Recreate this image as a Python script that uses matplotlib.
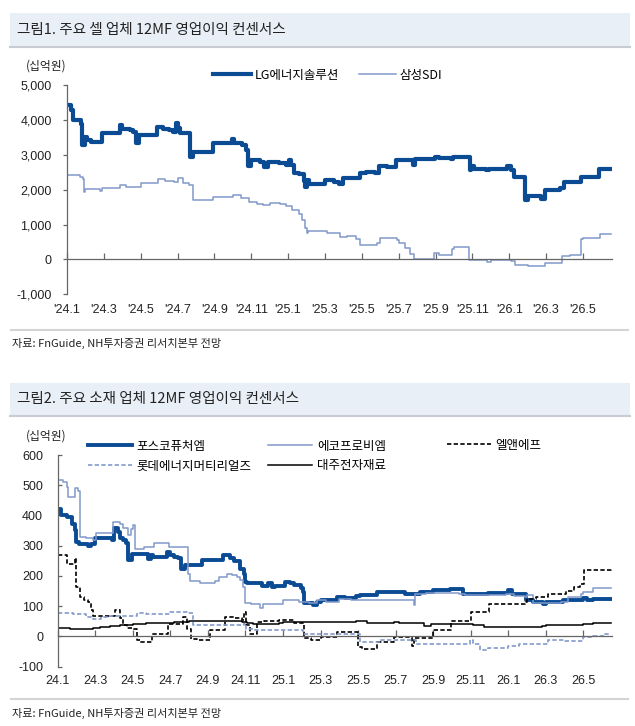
import matplotlib
matplotlib.use("Agg")
import matplotlib.pyplot as plt
from matplotlib.lines import Line2D
from matplotlib.patches import Rectangle

W, H = 635, 726
KR = ["Noto Sans CJK KR", "DejaVu Sans"]
NUM = ["Liberation Sans Narrow", "Liberation Sans", "DejaVu Sans"]
DARK = "#0b4b94"
LIGHT = "#8299cb"
AXIS = "#666666"
TEXT = "#222222"

# x = months since Jan 2024, values in 십억원 (step changes)
XTICKS = list(range(0, 29, 2))
XLABELS_1 = ["'24.1", "'24.3", "'24.5", "'24.7", "'24.9", "'24.11", "'25.1", "'25.3",
             "'25.5", "'25.7", "'25.9", "'25.11", "'26.1", "'26.3", "'26.5"]
XLABELS_2 = [s.replace("'", "") for s in XLABELS_1]

LG_X = [0, 0.2, 0.3, 0.75, 0.82, 0.95, 1.1, 1.3, 1.9, 2.85, 3.0, 3.4, 3.6, 3.75, 3.9,
        4.9, 5.2, 5.55, 5.75, 5.92, 6.05, 6.15, 6.7, 6.85, 7.92, 8.95, 9.05, 9.5, 9.7,
        9.82, 9.98, 10.45, 10.7, 10.9, 11.5, 11.9, 12.05, 12.15, 12.3, 12.6, 12.85,
        12.92, 13.05, 13.15, 14.0, 14.5, 14.75, 15.0, 15.9, 16.25, 16.7, 16.95, 17.35,
        17.85, 18.8, 18.88, 19.95, 20.2, 20.85, 20.95, 21.3, 21.85, 21.95, 22.1, 22.75,
        22.9, 23.9, 24.08, 24.25, 24.88, 25.0, 25.75, 25.95, 26.75, 26.95, 27.9, 28.85,
        29.5]
LG_Y = [4430, 4290, 4000, 3900, 3280, 3520, 3430, 3380, 3620, 3860, 3760, 3715, 3670,
        3330, 3570, 3790, 3760, 3715, 3668, 3910, 3780, 3620, 2950, 3090, 3330, 3450,
        3330, 3280, 3150, 2670, 2850, 2800, 2660, 2800, 2760, 2720, 2850, 2720, 2480,
        2440, 2250, 2090, 2280, 2165, 2270, 2220, 2160, 2330, 2470, 2520, 2470, 2680,
        2640, 2850, 2710, 2870, 2950, 2920, 2870, 2950, 2930, 2570, 2670, 2600, 2560,
        2590, 2670, 2560, 2360, 1700, 1810, 1740, 1990, 2040, 2230, 2370, 2590, 2590]

SDI_X = [0, 0.7, 0.85, 0.92, 0.98, 1.8, 1.9, 2.85, 3.2, 3.5, 4.0, 4.95, 5.3, 5.8, 6.0,
         6.3, 6.6, 6.82, 7.92, 9.0, 9.45, 9.9, 10.3, 10.65, 11.0, 11.55, 11.9, 12.2,
         12.6, 12.75, 12.9, 13.0, 13.1, 14.1, 14.8, 15.2, 15.7, 15.9, 16.8, 17.0, 17.9,
         18.0, 18.35, 18.6, 18.85, 19.9, 20.2, 20.9, 21.0, 21.8, 22.8, 23.0, 24.1, 24.3,
         25.0, 25.95, 26.85, 27.3, 27.9, 28.0, 28.9, 29.1, 29.5]
SDI_Y = [2420, 2355, 2300, 1944, 2020, 1972, 2040, 2135, 2090, 2068, 2203, 2298, 2260,
         2230, 2326, 2203, 2135, 1704, 1780, 1848, 1752, 1637, 1600, 1560, 1608, 1580,
         1531, 1416, 1300, 1128, 900, 760, 800, 760, 640, 670, 575, 420, 480, 600, 560,
         480, 335, 150, 20, 180, 130, 290, 340, -10, -70, -10, -60, -160, -200, -110,
         90, 110, 570, 600, 740, 720, 720]

POSCO_X = [0, 0.2, 0.48, 0.75, 0.93, 1.0, 1.15, 1.6, 1.8, 1.97, 2.1, 2.87, 3.0, 3.2,
           3.32, 3.5, 3.65, 3.75, 3.95, 4.8, 4.98, 5.1, 5.8, 6.0, 6.2, 6.4, 6.58, 6.78,
           7.7, 8.8, 9.2, 9.4, 9.7, 9.9, 9.98, 10.1, 10.9, 11.2, 11.4, 11.6, 12.1, 12.4,
           12.6, 12.95, 13.05, 13.12, 13.6, 13.8, 14.0, 14.9, 15.3, 15.9, 16.1, 17.0,
           18.5, 18.9, 19.3, 20.0, 20.2, 20.9, 21.6, 22.9, 24.0, 24.2, 24.95, 25.3,
           25.85, 26.0, 26.9, 28.0, 28.2, 28.5, 29.5]
POSCO_Y = [423, 402, 395, 373, 351, 313, 307, 298, 307, 324, 326, 320, 357, 346, 324,
           318, 310, 252, 274, 257, 268, 263, 279, 270, 263, 258, 224, 235, 254, 268,
           260, 250, 224, 207, 180, 177, 166, 177, 163, 166, 180, 177, 170, 160, 147,
           112, 103, 114, 119, 130, 126, 133, 136, 147, 139, 141, 147, 152, 154, 158,
           141, 143, 152, 139, 119, 114, 106, 114, 119, 127, 121, 125, 125]

ECOPRO_X = [0, 0.3, 0.48, 0.57, 0.92, 1.1, 1.19, 1.5, 1.9, 2.05, 2.96, 3.3, 3.5, 3.72,
            3.9, 4.02, 4.12, 4.6, 5.15, 5.95, 6.96, 7.05, 7.6, 8.4, 8.6, 9.0, 9.3, 9.55,
            9.71, 9.85, 10.0, 10.3, 10.8, 10.95, 11.1, 12.0, 12.85, 13.4, 13.8, 14.3,
            15.0, 15.6, 17.4, 18.97, 19.04, 19.6, 21.4, 21.7, 23.9, 24.3, 24.9, 25.0,
            25.3, 26.8, 27.2, 27.9, 28.0, 28.5, 29.5]
ECOPRO_Y = [517, 510, 495, 462, 490, 482, 329, 324, 318, 343, 378, 372, 357, 335, 355,
            368, 290, 296, 308, 297, 208, 183, 177, 185, 197, 208, 203, 195, 186, 163,
            110, 106, 95, 106, 108, 119, 114, 110, 119, 114, 125, 121, 119, 103, 141,
            143, 141, 136, 139, 134, 130, 136, 110, 114, 130, 139, 147, 160, 160]

LNF_X = [0, 0.48, 0.94, 0.98, 1.19, 1.4, 1.6, 1.75, 1.9, 2.1, 3.05, 3.3, 3.5, 3.7, 4.0,
         4.2, 4.38, 5.0, 5.9, 6.7, 6.9, 7.1, 7.4, 8.1, 8.4, 8.9, 9.4, 9.8, 9.95, 10.05,
         10.25, 10.6, 11.0, 11.8, 12.6, 13.1, 13.5, 14.0, 14.9, 16.0, 16.2, 17.0, 17.9,
         18.9, 19.0, 20.0, 20.95, 22.0, 23.0, 24.9, 25.0, 25.5, 26.1, 27.1, 27.5, 27.85,
         28.05, 29.5]
LNF_Y = [268, 238, 261, 163, 130, 119, 114, 86, 69, 66, 86, 61, 37, 29, 25, -13, -19, 9,
         42, 64, 25, -8, -13, 20, 22, 64, 60, 55, 81, 37, 9, 48, 50, 53, 46, -5, -13, -2,
         14, -35, -41, -19, -2, -30, -5, 20, 50, 80, 108, 114, 125, 130, 139, 150, 165,
         175, 220, 222]

LOTTE_X = [0, 0.8, 1.5, 1.9, 2.3, 2.8, 4.2, 4.7, 5.4, 6.0, 6.9, 7.2, 9.9, 10.05, 10.5,
           10.9, 11.3, 13.05, 15.9, 16.1, 17.2, 18.9, 19.1, 21.95, 22.1, 22.5, 22.9,
           24.0, 24.6, 26.1, 27.0, 28.0, 28.5, 29.1, 29.5]
LOTTE_Y = [77, 73, 64, 59, 64, 69, 77, 73, 75, 80, 77, 37, 44, 25, 20, 22, 20, 9, 9, -19,
           -13, -13, -26, -13, -26, -44, -37, -33, -26, -13, -15, -2, 3, 9, 9]

DAEJOO_X = [0, 0.65, 1.9, 2.25, 2.8, 3.3, 4.0, 4.7, 6.2, 7.0, 9.8, 10.1, 10.4, 11.1,
            11.8, 12.0, 15.9, 16.5, 17.9, 18.2, 19.5, 19.9, 22.15, 22.7, 25.8, 26.0,
            28.0, 28.5, 29.5]
DAEJOO_Y = [29, 25, 27, 31, 33, 37, 40, 44, 48, 51, 48, 44, 40, 42, 44, 48, 50, 44, 48,
            44, 35, 42, 37, 31, 33, 37, 42, 44, 44]


def fx(px):
    return px / W


def fy(py):
    return 1 - py / H


def title_bar(fig, top, bottom, text):
    fig.patches.append(Rectangle((fx(10), fy(bottom)), fx(620), (bottom - top) / H,
                                 transform=fig.transFigure, facecolor="#e9eff7",
                                 edgecolor="none"))
    fig.add_artist(Line2D([fx(10), fx(630)], [fy(bottom), fy(bottom)],
                          transform=fig.transFigure, color="#c8ccd2", lw=1.5))
    fig.text(fx(17), fy((top + bottom) / 2), text, fontsize=10.5, family=KR,
             va="center", ha="left", color=TEXT)


def footer(fig, line_y, text_y):
    fig.add_artist(Line2D([fx(11), fx(628)], [fy(line_y), fy(line_y)],
                          transform=fig.transFigure, color="#d4d4d4", lw=1.5))
    fig.text(fx(12), fy(text_y), "자료: FnGuide, NH투자증권 리서치본부 전망",
             fontsize=8, family=KR, va="center", ha="left", color=TEXT)


def style(ax, ylim, yticks, ylabels, xlabels, xpad, ydir, ypad):
    ax.set_xlim(0, 29.55)
    ax.set_ylim(*ylim)
    for s in ("top", "right"):
        ax.spines[s].set_visible(False)
    ax.spines["bottom"].set_position(("data", 0))
    for s in ("bottom", "left"):
        ax.spines[s].set_color(AXIS)
        ax.spines[s].set_linewidth(0.9)
    ax.set_xticks(XTICKS)
    ax.set_xticklabels(xlabels, family=NUM, fontsize=9, color=TEXT)
    ax.set_yticks(yticks)
    ax.set_yticklabels(ylabels, family=NUM, fontsize=9, color=TEXT)
    ax.tick_params(axis="x", direction="in", length=4, width=0.9, color=AXIS, pad=xpad)
    ax.tick_params(axis="y", direction=ydir, length=3, width=0.9, color=AXIS, pad=ypad)
    ax.set_facecolor("none")


fig = plt.figure(figsize=(W / 100, H / 100), dpi=100)

# ---- chart 1 ----
title_bar(fig, 13, 47, "그림1. 주요 셀 업체 12MF 영업이익 컨센서스")
fig.text(fx(26), fy(66), "(십억원)", fontsize=8.5, family=KR, va="center", color=TEXT)
ax1 = fig.add_axes([fx(67), fy(294.1), fx(544.5), 208.7 / H])
lg, = ax1.plot(LG_X, LG_Y, drawstyle="steps-post", color=DARK, lw=3.0)
sdi, = ax1.plot(SDI_X, SDI_Y, drawstyle="steps-post", color=LIGHT, lw=1.1)
y1 = list(range(-1000, 5001, 1000))
style(ax1, (-1000, 5000), y1, [f"{v:,}" for v in y1], XLABELS_1, 32, "out", 8)
fig.legend([lg, sdi], ["LG에너지솔루션", "삼성SDI"], loc="center left",
           bbox_to_anchor=(fx(213), fy(75)), ncol=2, frameon=False,
           prop={"family": KR, "size": 9}, handlelength=3.0, handletextpad=0.3,
           columnspacing=1.6, borderpad=0, borderaxespad=0)
footer(fig, 330, 343)

# ---- chart 2 ----
title_bar(fig, 383, 416, "그림2. 주요 소재 업체 12MF 영업이익 컨센서스")
fig.text(fx(26), fy(436), "(십억원)", fontsize=8.5, family=KR, va="center", color=TEXT)
ax2 = fig.add_axes([fx(57.7), fy(666.7), fx(554.7), 211.7 / H])
posco, = ax2.plot(POSCO_X, POSCO_Y, drawstyle="steps-post", color=DARK, lw=2.8)
eco, = ax2.plot(ECOPRO_X, ECOPRO_Y, drawstyle="steps-post", color=LIGHT, lw=1.1)
lnf, = ax2.plot(LNF_X, LNF_Y, drawstyle="steps-post", color="black", lw=1.2,
                dashes=(2.6, 1.4))
lotte, = ax2.plot(LOTTE_X, LOTTE_Y, drawstyle="steps-post", color=LIGHT, lw=1.2,
                  dashes=(2.6, 1.4))
daejoo, = ax2.plot(DAEJOO_X, DAEJOO_Y, drawstyle="steps-post", color="black", lw=1.1)
y2 = list(range(-100, 601, 100))
style(ax2, (-100, 600), y2, [str(v) for v in y2], XLABELS_2, 28, "in", 10.5)

legend_cols = [
    ([posco, lotte], ["포스코퓨처엠", "롯데에너지머티리얼즈"], 88, 456),
    ([eco, daejoo], ["에코프로비엠", "대주전자재료"], 268, 456),
    ([lnf], ["엘앤에프"], 447, 445),
]
for handles, labels, lx, ly in legend_cols:
    fig.legend(handles, labels, loc="center left", bbox_to_anchor=(fx(lx), fy(ly)),
               frameon=False, prop={"family": KR, "size": 9}, handlelength=3.5,
               handletextpad=0.4, labelspacing=0.55, borderpad=0, borderaxespad=0)
footer(fig, 699, 713)

fig.savefig("out.png", dpi=100)
